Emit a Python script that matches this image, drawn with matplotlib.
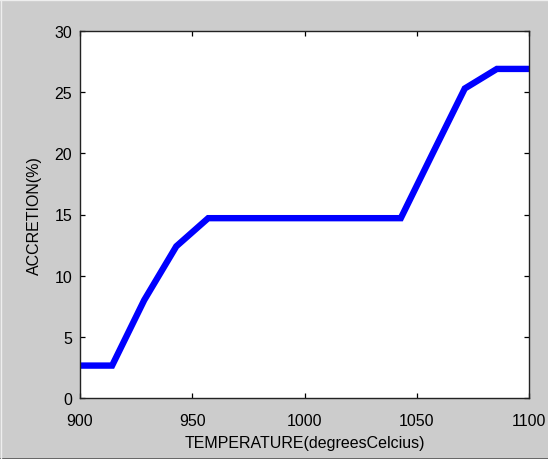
import matplotlib
matplotlib.use("Agg")
import matplotlib.pyplot as plt
from matplotlib.lines import Line2D

# Temperature sweep (degrees Celsius) and measured accretion (%)
temperature = [900.0, 914.3, 928.6, 942.9, 957.1, 971.4, 985.7, 1000.0,
               1014.3, 1028.6, 1042.9, 1057.1, 1071.4, 1085.7, 1100.0]
accretion = [2.65, 2.65, 8.0, 12.4, 14.7, 14.7, 14.7, 14.7,
             14.7, 14.7, 14.7, 20.0, 25.3, 26.9, 26.9]

x_ticks = [900, 950, 1000, 1050, 1100]
y_ticks = [0, 5, 10, 15, 20, 25, 30]

plt.rcParams["font.family"] = ["Liberation Sans", "DejaVu Sans"]

fig = plt.figure(figsize=(5.48, 4.60), dpi=100, facecolor="#cccccc")
ax = fig.add_axes([80 / 548, 61 / 460, 449 / 548, 367 / 460])
ax.set_facecolor("white")

ax.plot(temperature, accretion, color="#0000ff", linewidth=4.6,
        solid_joinstyle="miter", solid_capstyle="butt")

ax.set_xlim(900, 1100)
ax.set_ylim(0, 30)
ax.set_xticks(x_ticks)
ax.set_yticks(y_ticks)
ax.tick_params(direction="in", length=3.6, width=0.9, labelsize=11.5,
               top=True, right=True, pad=5.5, colors="black")
ax.tick_params(axis="x", pad=10.5)
for s in ax.spines.values():
    s.set_linewidth(1.0)
    s.set_color("#222222")

ax.set_xlabel("TEMPERATURE(degreesCelcius)", fontsize=11.5, labelpad=5)
ax.set_ylabel("ACCRETION(%)", fontsize=11.5, labelpad=9)

# window frame edges
fig.add_artist(Line2D([0, 1], [0.5 / 460, 0.5 / 460], transform=fig.transFigure,
                      color="#555555", linewidth=1.2))
fig.add_artist(Line2D([0, 1], [459.5 / 460, 459.5 / 460], transform=fig.transFigure,
                      color="#eeeeee", linewidth=1.0))
fig.add_artist(Line2D([0.5 / 548, 0.5 / 548], [0, 1], transform=fig.transFigure,
                      color="#eeeeee", linewidth=1.0))

fig.savefig("out.png", dpi=100, facecolor=fig.get_facecolor())
